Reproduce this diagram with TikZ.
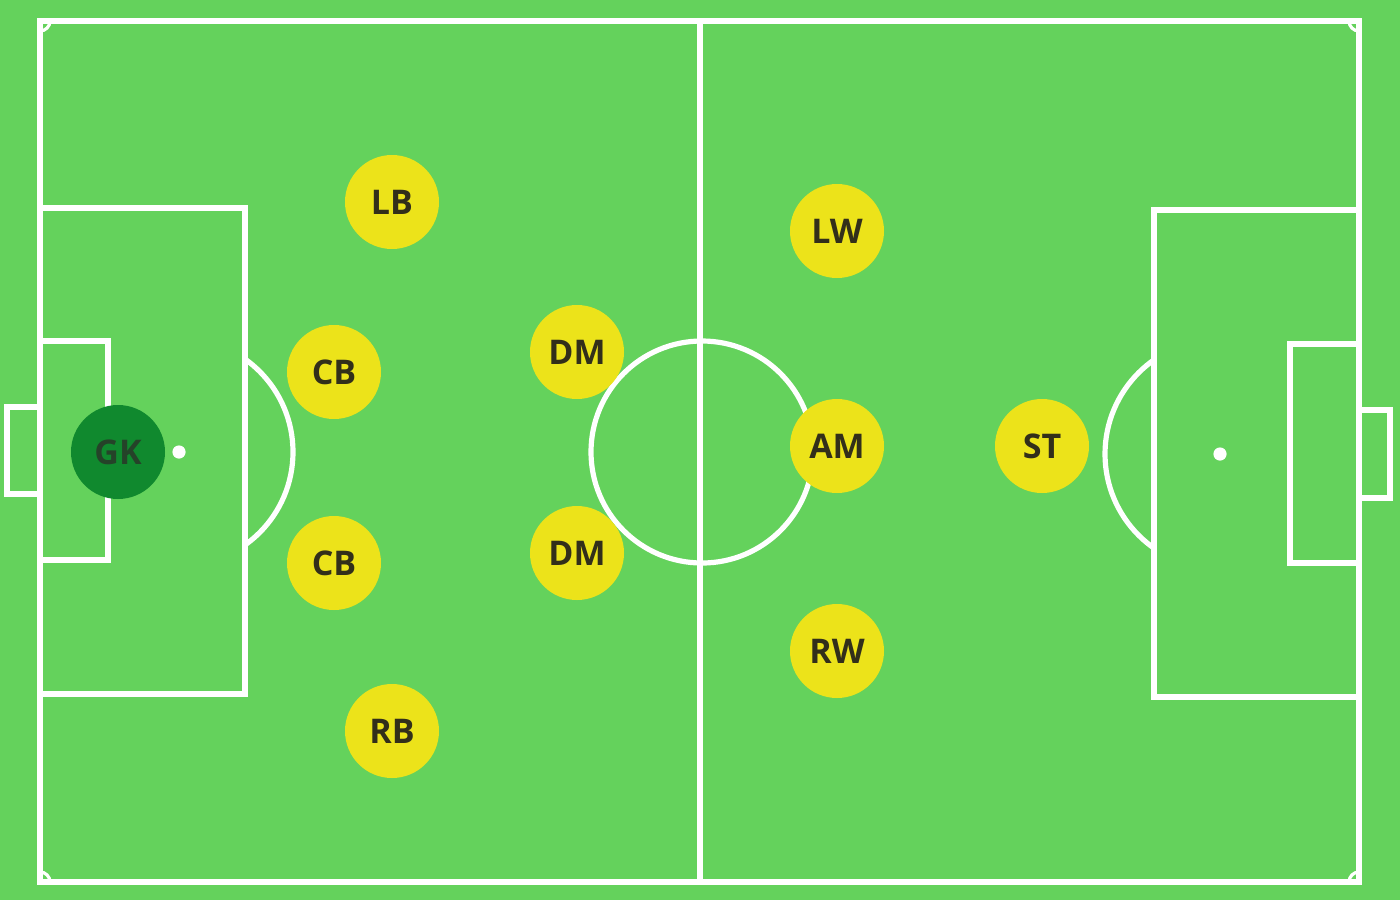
\documentclass[tikz,border=0pt]{standalone}
\usepackage{fontspec}
\setmainfont{Open Sans}
\usetikzlibrary{calc}
\definecolor{pitch}{HTML}{64D25C}
\definecolor{yel}{HTML}{ECE31A}
\definecolor{gkgreen}{HTML}{10892E}
\definecolor{txt}{HTML}{322F1A}
\definecolor{gktxt}{HTML}{254329}
\tikzset{
  line/.style={draw=white, line width=2.6pt},
  player/.style={circle, fill=yel, minimum size=47pt, inner sep=0pt, text=txt, font=\fontsize{17}{17}\selectfont\bfseries},
  keeper/.style={player, fill=gkgreen, text=gktxt},
  spot/.style={fill=white}
}
\begin{document}
\begin{tikzpicture}[x=0.5pt,y=-0.5pt]
\fill[pitch] (0,0) rectangle (1400,900);
\useasboundingbox (0,0) rectangle (1400,900);
% outer lines
\draw[line] (40,21) rectangle (1359,882);
\draw[line] (700,21) -- (700,882);
% centre circle
\draw[line] (702,452) circle [radius=55.5pt];
% left penalty area, goal area, goal
\draw[line] (40,208) -| (245,694) -- (40,694);
\draw[line] (40,341) -| (108,560) -- (40,560);
\draw[line] (40,407) -| (7,494) -- (40,494);
\fill[spot] (179,452) circle [radius=3.3pt];
\begin{scope}
\clip (245,300) rectangle (400,600);
\draw[line] (179,452) circle [radius=57pt];
\end{scope}
% right penalty area, goal area, goal
\draw[line] (1359,210) -| (1154,697) -- (1359,697);
\draw[line] (1359,344) -| (1290,563) -- (1359,563);
\draw[line] (1359,410) -| (1390,498) -- (1359,498);
\fill[spot] (1220,454) circle [radius=3.3pt];
\begin{scope}
\clip (1000,300) rectangle (1154,600);
\draw[line] (1220,454) circle [radius=57.5pt];
\end{scope}
% corner arcs
\draw[line, line width=1.6pt] (40,31) arc [start angle=-90, end angle=0, radius=5pt];
\draw[line, line width=1.6pt] (1349,21) arc [start angle=180, end angle=270, radius=5pt];
\draw[line, line width=1.6pt] (40,872) arc [start angle=90, end angle=0, radius=5pt];
\draw[line, line width=1.6pt] (1349,882) arc [start angle=180, end angle=90, radius=5pt];
% players
\node[keeper] (gk) at (118,452) {GK};
\node[player] (lb) at (392,202) {LB};
\node[player] (cb1) at (334,372) {CB};
\node[player] (cb2) at (334,563) {CB};
\node[player] (rb) at (392,731) {RB};
\node[player] (dm1) at (577,352) {DM};
\node[player] (dm2) at (577,553) {DM};
\node[player] (lw) at (837,231) {LW};
\node[player] (am) at (837,446) {AM};
\node[player] (rw) at (837,651) {RW};
\node[player] (st) at (1042,446) {ST};
\end{tikzpicture}
\end{document}
